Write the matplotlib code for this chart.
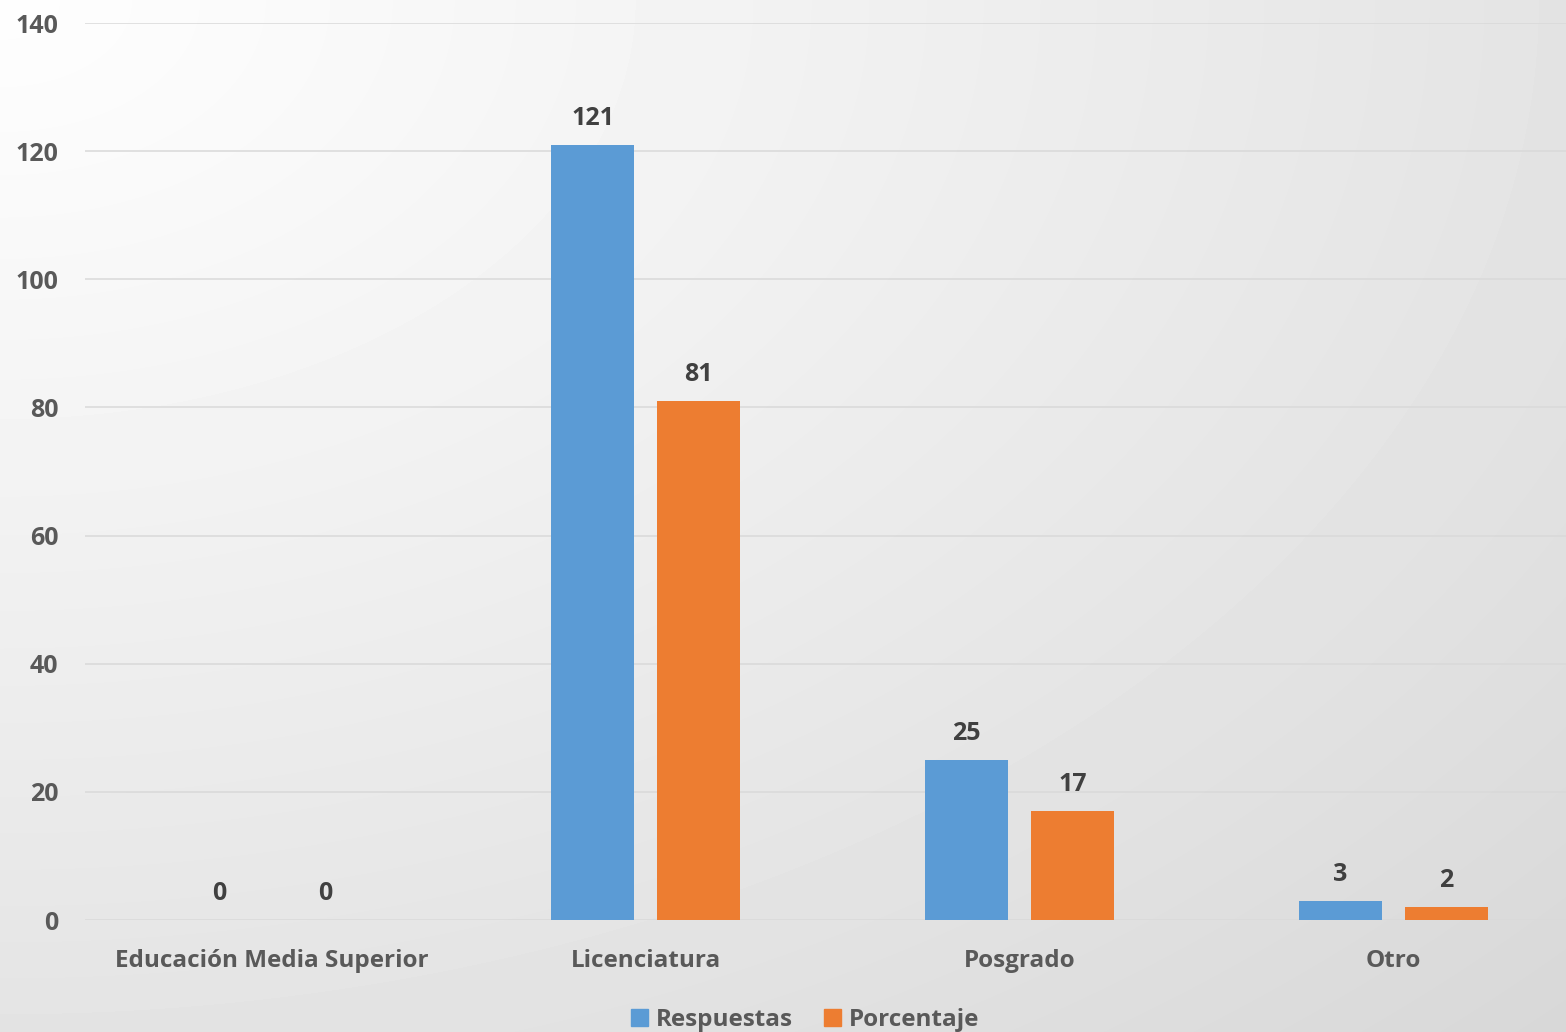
import numpy as np
import matplotlib.pyplot as plt
from matplotlib.patches import Patch

plt.rcParams["font.family"] = ["Open Sans", "DejaVu Sans"]
plt.rcParams["font.weight"] = "bold"

categories = ["Educación Media Superior", "Licenciatura", "Posgrado", "Otro"]
respuestas = [0, 121, 25, 3]
porcentaje = [0, 81, 17, 2]
series_names = ["Respuestas", "Porcentaje"]
y_ticks = [0, 20, 40, 60, 80, 100, 120, 140]

BLUE = "#5B9BD5"
ORANGE = "#ED7D31"
TICK_COLOR = "#595959"
LABEL_COLOR = "#404040"

W, H = 1566, 1032
fig = plt.figure(figsize=(W / 100, H / 100), dpi=100)

# soft radial shading behind everything, light in the upper left corner
bg = fig.add_axes([0, 0, 1, 1], zorder=-10)
yy, xx = np.mgrid[0:H, 0:W]
r = np.sqrt((xx / W) ** 2 + (yy / H) ** 2) / np.sqrt(2)
shade = 0.995 - 0.15 * r ** 1.1
bg.imshow(shade, cmap="gray", vmin=0, vmax=1, aspect="auto",
          extent=[0, 1, 0, 1], interpolation="bilinear")
bg.set_axis_off()

ax = fig.add_axes([85 / W, 112 / H, (W - 85) / W, 897 / H])
ax.patch.set_alpha(0)

x = np.arange(len(categories))
offset = 0.1417
width = 0.222
b1 = ax.bar(x - offset, respuestas, width, color=BLUE, zorder=3)
b2 = ax.bar(x + offset, porcentaje, width, color=ORANGE, zorder=3)

for bars, vals in ((b1, respuestas), (b2, porcentaje)):
    for rect, v in zip(bars, vals):
        ax.annotate(f"{v}", (rect.get_x() + rect.get_width() / 2, v),
                    xytext=(0, 10), textcoords="offset points",
                    ha="center", va="bottom", fontsize=18,
                    fontweight="bold", color=LABEL_COLOR)

ax.set_ylim(0, 140)
ax.set_xlim(-0.5, 3.5 - 14 / 374)
ax.set_yticks(y_ticks)
ax.set_xticks(x)
ax.set_xticklabels(categories)
ax.tick_params(axis="y", length=0, pad=19, labelsize=18, labelcolor=TICK_COLOR)
ax.tick_params(axis="x", length=0, pad=21, labelsize=17.5, labelcolor=TICK_COLOR)
ax.grid(axis="y", color="#d9d9d9", linewidth=1.1, zorder=0)
for s in ax.spines.values():
    s.set_visible(False)

handles = [Patch(color=BLUE), Patch(color=ORANGE)]
fig.legend(handles, series_names, loc="center", ncol=2,
           bbox_to_anchor=(805 / W, 1 - 1020 / H), frameon=False,
           fontsize=17.5, labelcolor=TICK_COLOR, handlelength=0.7,
           handleheight=0.7, handletextpad=0.3, columnspacing=1.3)

fig.savefig("out.png", dpi=100)
